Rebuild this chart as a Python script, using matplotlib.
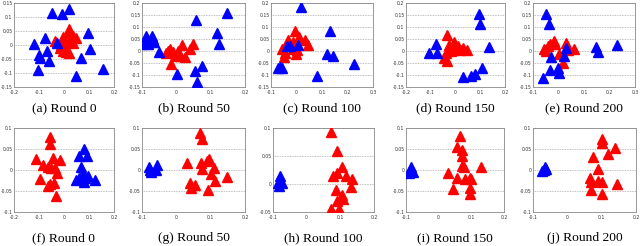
import numpy as np
import matplotlib
matplotlib.use("Agg")
import matplotlib.pyplot as plt
from matplotlib.ticker import FormatStrFormatter, MultipleLocator

# ---- data (x, y) per round ----
captions = ["(a) Round 0", "(b) Round 50", "(c) Round 100", "(d) Round 150", "(e) Round 200",
            "(f) Round 0", "(g) Round 50", "(h) Round 100", "(i) Round 150", "(j) Round 200"]

blue_a = [(-0.05, 0.115), (-0.008, 0.112), (0.021, 0.128), (0.097, 0.044), (-0.122, 0.002),
          (-0.075, 0.026), (-0.028, 0.006), (-0.1, -0.034), (-0.095, -0.045), (-0.067, -0.022),
          (-0.06, -0.058), (-0.103, -0.09), (0.103, -0.016), (0.067, -0.046), (0.049, -0.11),
          (0.157, -0.084)]
red_a = [(0.021, 0.058), (0.015, 0.042), (-0.003, 0.03), (0.037, 0.032), (0.047, 0.024),
         (-0.038, 0.014), (0.018, 0.012), (-0.018, -0.012), (-0.005, -0.022), (0.008, -0.026),
         (0.018, -0.03), (-0.012, 0.0), (0.001, -0.006), (0.028, 0.014), (0.034, 0.006)]

blue_b = [(0.148, 0.158), (0.058, 0.13), (0.119, 0.077), (0.124, 0.028), (-0.087, 0.063),
          (-0.071, 0.063), (-0.092, 0.042), (-0.077, 0.039), (-0.065, 0.036), (-0.082, 0.028),
          (-0.097, 0.028), (-0.068, 0.05), (-0.05, -0.006), (0.076, -0.063), (0.053, -0.083),
          (0.003, -0.094), (0.06, -0.129)]
red_b = [(0.05, 0.029), (0.016, 0.025), (0.04, 0.008), (-0.019, 0.007), (-0.03, -0.007),
         (0.006, 0.0), (-0.004, -0.02), (0.024, -0.024), (-0.016, -0.056), (0.011, -0.02),
         (-0.025, 0.0), (-0.009, -0.006)]

blue_c = [(0.016, 0.183), (0.132, 0.082), (0.121, -0.014), (0.143, -0.02), (0.226, -0.054),
          (0.082, -0.104), (-0.064, -0.065), (-0.057, -0.07), (-0.072, -0.072),
          (-0.038, 0.02), (-0.025, 0.02), (0.007, 0.023)]
red_c = [(-0.006, 0.082), (-0.034, 0.046), (0.011, 0.06), (0.035, 0.046), (0.046, 0.026),
         (-0.012, 0.037), (-0.045, -0.008), (-0.048, -0.027), (-0.003, -0.011), (-0.015, 0.01),
         (-0.057, 0.01), (0.001, 0.003)]

blue_d = [(0.095, 0.156), (0.098, 0.114), (0.137, 0.017), (-0.079, 0.03), (-0.106, -0.01),
          (-0.075, -0.007), (0.109, -0.069), (0.079, -0.094), (0.064, -0.104), (0.031, -0.108)]
red_d = [(-0.035, 0.065), (-0.008, 0.037), (-0.028, 0.024), (0.011, 0.021), (0.032, 0.014),
         (0.048, 0.004), (-0.005, 0.007), (-0.039, -0.007), (-0.048, -0.028), (-0.035, -0.042),
         (-0.019, 0.0), (0.019, 0.003)]

blue_e = [(-0.048, 0.153), (-0.039, 0.114), (0.228, 0.025), (0.147, 0.017), (0.153, -0.003),
          (0.03, 0.014), (-0.03, -0.025), (0.02, -0.021), (-0.002, -0.07), (0.0, -0.09),
          (-0.035, -0.08), (-0.062, -0.114)]
red_e = [(-0.019, 0.042), (-0.032, 0.031), (-0.058, 0.007), (-0.043, 0.021), (0.03, 0.035),
         (0.059, 0.007), (0.039, 0.003), (0.0, -0.014), (0.016, -0.052), (-0.013, 0.028),
         (-0.048, 0.0)]

blue_f = [(0.08, 0.05), (0.091, 0.034), (0.061, 0.034), (0.067, 0.006), (0.061, -0.02),
          (0.084, -0.02), (0.097, -0.014), (0.124, -0.024), (0.08, -0.028), (0.047, -0.024),
          (0.074, -0.008)]
red_f = [(-0.055, 0.078), (-0.055, 0.062), (-0.113, 0.026), (-0.045, 0.028), (-0.018, 0.024),
         (-0.084, 0.012), (-0.064, 0.008), (-0.038, 0.004), (-0.029, -0.006), (-0.095, -0.022),
         (-0.058, -0.034), (-0.042, -0.03), (-0.064, -0.038), (-0.032, -0.062), (-0.051, 0.004)]

blue_g = [(-0.08, 0.008), (-0.055, 0.012), (-0.073, -0.004), (-0.058, 0.0), (-0.078, 0.0)]
red_g = [(0.07, 0.088), (0.075, 0.074), (0.032, 0.016), (0.073, 0.016), (0.096, 0.026),
         (0.09, 0.022), (0.11, 0.004), (0.076, 0.002), (0.1, -0.01), (0.149, -0.016),
         (0.112, -0.026), (0.041, -0.03), (0.054, -0.036), (0.044, -0.044), (0.091, -0.048)]

blue_h = [(-0.08, 0.008), (-0.072, 0.002), (-0.085, 0.001), (-0.078, 0.014), (-0.082, -0.003)]
red_h = [(0.072, 0.092), (0.09, 0.059), (0.105, 0.03), (0.09, 0.019), (0.077, 0.015),
         (0.118, 0.015), (0.134, 0.009), (0.131, -0.006), (0.087, -0.011), (0.105, -0.019),
         (0.109, -0.026), (0.089, -0.03), (0.072, -0.044), (0.095, -0.045)]

blue_i = [(-0.087, 0.0), (-0.085, 0.006), (-0.09, -0.006), (-0.08, -0.004)]
red_i = [(0.066, 0.082), (0.055, 0.054), (0.07, 0.048), (0.071, 0.034), (0.071, 0.01),
         (0.078, 0.006), (0.129, 0.006), (0.029, -0.008), (0.055, -0.018), (0.081, -0.022),
         (0.096, -0.018), (0.1, -0.022), (0.096, -0.042), (0.045, -0.046), (0.095, -0.058)]

blue_j = [(-0.069, 0.0), (-0.064, 0.008), (-0.073, -0.002), (-0.062, 0.002)]
red_j = [(0.102, 0.074), (0.1, 0.064), (0.138, 0.052), (0.117, 0.038), (0.075, 0.032),
         (0.09, 0.002), (0.065, -0.018), (0.068, -0.028), (0.09, -0.026), (0.1, -0.028),
         (0.145, -0.034), (0.068, -0.048), (0.1, -0.058)]

blues = [blue_a, blue_b, blue_c, blue_d, blue_e, blue_f, blue_g, blue_h, blue_i, blue_j]
reds = [red_a, red_b, red_c, red_d, red_e, red_f, red_g, red_h, red_i, red_j]

xlims = [(-0.2, 0.2), (-0.1, 0.2), (-0.1, 0.3), (-0.2, 0.2), (-0.1, 0.3),
         (-0.2, 0.2), (-0.1, 0.2), (-0.1, 0.2), (-0.1, 0.2), (-0.1, 0.2)]
ylims = [(-0.15, 0.15), (-0.15, 0.2), (-0.15, 0.2), (-0.15, 0.2), (-0.15, 0.2),
         (-0.1, 0.1), (-0.1, 0.1), (-0.05, 0.1), (-0.1, 0.1), (-0.1, 0.1)]

# axes boxes in pixels: left, right
cols_px = [(14, 114), (142, 245), (271, 373), (406, 505), (533, 635),
           (14, 114), (142, 245), (273, 374), (406, 504), (533, 636)]
W, H = 640, 246
rows_px = [(3, 87), (128, 212)]
cap_y = [108, 238]

fig = plt.figure(figsize=(6.4, 2.46), dpi=100)

for i in range(10):
    r = i // 5
    l, rr = cols_px[i]
    top, bot = rows_px[r]
    ax = fig.add_axes([l / W, 1 - bot / H, (rr - l) / W, (bot - top) / H])
    b = np.array(blues[i])
    rd = np.array(reds[i])
    ax.plot(rd[:, 0], rd[:, 1], '^', color=(1, 0, 0), ms=7.6, mec=(1, 0, 0), zorder=3)
    ax.plot(b[:, 0], b[:, 1], '^', color=(0, 0, 1), ms=7.6, mec=(0, 0, 1), zorder=3)
    ax.set_xlim(*xlims[i])
    ax.set_ylim(*ylims[i])
    ax.xaxis.set_major_locator(MultipleLocator(0.1))
    ax.yaxis.set_major_locator(MultipleLocator(0.05))
    ax.xaxis.set_major_formatter(FormatStrFormatter('%g'))
    ax.yaxis.set_major_formatter(FormatStrFormatter('%g'))
    ax.yaxis.grid(True, color='#aaaaaa', linestyle=(0, (1, 1)), linewidth=0.6)
    ax.set_axisbelow(True)
    ax.tick_params(labelsize=3.3, length=0, colors='#333333')
    ax.tick_params(axis='x', pad=2.2)
    ax.tick_params(axis='y', pad=1.0)
    for s in ax.spines.values():
        s.set_color('#888888')
        s.set_linewidth(0.6)
    fig.text((l + rr) / 2 / W, 1 - cap_y[r] / H, captions[i], ha='center', va='center',
             family='Liberation Serif', fontsize=9.7)

fig.savefig('out.png', dpi=100)
